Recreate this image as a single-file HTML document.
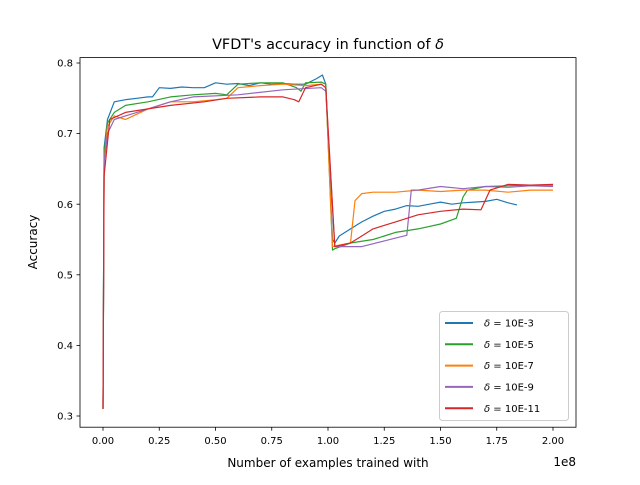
<!DOCTYPE html>
<html><head><meta charset="utf-8"><style>
body{margin:0;background:#fff}
text{font-family:"DejaVu Sans","Liberation Sans",sans-serif;fill:#000}
</style></head><body>
<svg id="chart" width="640" height="480" xmlns="http://www.w3.org/2000/svg">
<rect width="640" height="480" fill="#fff"/>
<text x="328" y="49" font-size="14.4" text-anchor="middle">VFDT's accuracy in function of <tspan font-style="italic">δ</tspan></text>
<g id="plot"></g>
<rect x="80" y="57.6" width="496" height="369.6" fill="none" stroke="#000" stroke-width="0.8"/>
<g id="axes"></g>
<text x="328" y="467" font-size="12" text-anchor="middle">Number of examples trained with</text>
<text x="576" y="466" font-size="12" text-anchor="end">1e8</text>
<text transform="translate(37,242) rotate(-90)" font-size="12" text-anchor="middle">Accuracy</text>
<g id="legend"></g>
</svg>
<script>
const xTicks=[0,0.25,0.5,0.75,1.0,1.25,1.5,1.75,2.0];
const xTickLabels=["0.00","0.25","0.50","0.75","1.00","1.25","1.50","1.75","2.00"];
const yTicks=[0.3,0.4,0.5,0.6,0.7,0.8];
const yTickLabels=["0.3","0.4","0.5","0.6","0.7","0.8"];
const seriesNames=["10E-3","10E-5","10E-7","10E-9","10E-11"];
const seriesColors=["#1f77b4","#2ca02c","#ff7f0e","#9467bd","#d62728"];
const xs3=[0,0.005,0.02,0.05,0.1,0.15,0.2,0.22,0.25,0.3,0.35,0.4,0.45,0.5,0.55,0.6,0.65,0.7,0.75,0.8,0.85,0.9,0.95,0.975,0.99,1.02,1.03,1.05,1.1,1.15,1.2,1.25,1.3,1.35,1.4,1.45,1.5,1.55,1.6,1.65,1.7,1.75,1.8,1.84];
const ys3=[0.31,0.68,0.72,0.745,0.748,0.75,0.752,0.752,0.765,0.764,0.766,0.765,0.765,0.772,0.77,0.771,0.768,0.772,0.77,0.771,0.77,0.77,0.778,0.783,0.77,0.55,0.545,0.555,0.565,0.575,0.583,0.59,0.593,0.598,0.597,0.6,0.603,0.6,0.602,0.603,0.604,0.607,0.602,0.599];
const xs5=[0,0.005,0.02,0.05,0.1,0.2,0.3,0.4,0.5,0.55,0.6,0.7,0.8,0.86,0.88,0.9,0.97,0.99,1.02,1.03,1.1,1.2,1.25,1.3,1.4,1.5,1.57,1.6,1.62,1.7,1.8,1.9,2.0];
const ys5=[0.31,0.67,0.715,0.73,0.74,0.745,0.752,0.755,0.757,0.755,0.77,0.772,0.772,0.765,0.76,0.772,0.773,0.77,0.535,0.537,0.545,0.55,0.555,0.56,0.565,0.572,0.58,0.61,0.62,0.625,0.626,0.627,0.627];
const xs7=[0,0.005,0.02,0.05,0.1,0.2,0.3,0.4,0.5,0.55,0.6,0.7,0.8,0.9,0.97,0.99,1.02,1.05,1.1,1.12,1.15,1.2,1.3,1.4,1.5,1.6,1.7,1.8,1.9,2.0];
const ys7=[0.31,0.66,0.71,0.725,0.72,0.735,0.745,0.745,0.748,0.75,0.765,0.768,0.77,0.768,0.77,0.765,0.54,0.542,0.545,0.605,0.615,0.617,0.617,0.62,0.618,0.62,0.62,0.617,0.62,0.62];
const xs9=[0,0.005,0.02,0.05,0.15,0.2,0.3,0.4,0.6,0.8,0.97,0.99,1.03,1.15,1.25,1.3,1.35,1.37,1.4,1.5,1.6,1.7,1.8,1.9,2.0];
const ys9=[0.31,0.66,0.7,0.72,0.73,0.735,0.745,0.752,0.755,0.762,0.765,0.76,0.54,0.54,0.548,0.552,0.556,0.62,0.62,0.625,0.622,0.625,0.624,0.626,0.625];
const xs11=[0,0.005,0.03,0.1,0.2,0.3,0.45,0.55,0.7,0.8,0.85,0.87,0.9,0.97,0.99,1.03,1.1,1.15,1.2,1.3,1.4,1.5,1.6,1.68,1.72,1.8,1.9,2.0];
const ys11=[0.31,0.64,0.72,0.73,0.735,0.74,0.745,0.75,0.752,0.752,0.748,0.745,0.765,0.77,0.765,0.54,0.545,0.555,0.565,0.575,0.585,0.59,0.593,0.592,0.62,0.628,0.627,0.628];
const seriesX=[xs3,xs5,xs7,xs9,xs11];
const seriesY=[ys3,ys5,ys7,ys9,ys11];
const NS="http://www.w3.org/2000/svg";
function sx(v){return 103+225*v;}
function sy(v){return 416-(v-0.3)*706;}
function mk(tag,attrs,parent){const e=document.createElementNS(NS,tag);for(const k in attrs)e.setAttribute(k,attrs[k]);parent.appendChild(e);return e;}
const plot=document.getElementById('plot'),axes=document.getElementById('axes'),legend=document.getElementById('legend');
[0,1,2,3,4].forEach(i=>{
  const d=seriesX[i].map((x,j)=>(j?'L':'M')+sx(x).toFixed(1)+','+sy(seriesY[i][j]).toFixed(1)).join('');
  const p=mk('path',{d:d,fill:'none',stroke:seriesColors[i],'stroke-width':1.2,'stroke-linejoin':'round'},plot);
  
  
});
xTicks.forEach((t,i)=>{
  const l=mk('line',{x1:sx(t),x2:sx(t),y1:427.2,y2:430.7,stroke:'#000','stroke-width':0.8},axes);
  
  
  const tx=mk('text',{x:sx(t),y:444,'font-size':10,'text-anchor':'middle'},axes);
  tx.textContent=xTickLabels[i];
  
  
});
yTicks.forEach((t,i)=>{
  const l=mk('line',{x1:76.5,x2:80,y1:sy(t),y2:sy(t),stroke:'#000','stroke-width':0.8},axes);
  
  
  const tx=mk('text',{x:73,y:sy(t)+3.6,'font-size':10,'text-anchor':'end'},axes);
  tx.textContent=yTickLabels[i];
  
  
});
const box=mk('rect',{x:439.5,y:311.5,width:129,height:109,rx:3,fill:'#fff','fill-opacity':0.8,stroke:'#ccc','stroke-width':1},legend);


seriesNames.forEach((n,i)=>{
  const y=323+21.3*i;
  const g=mk('g',{},legend);
  
  
  mk('line',{x1:445,x2:473,y1:y,y2:y,stroke:seriesColors[i],'stroke-width':2},g);
  const t=mk('text',{x:484,y:y+3.6,'font-size':10},g);
  t.innerHTML='<tspan font-style="italic">δ</tspan> =  '+n;
});
</script>
</body></html>
